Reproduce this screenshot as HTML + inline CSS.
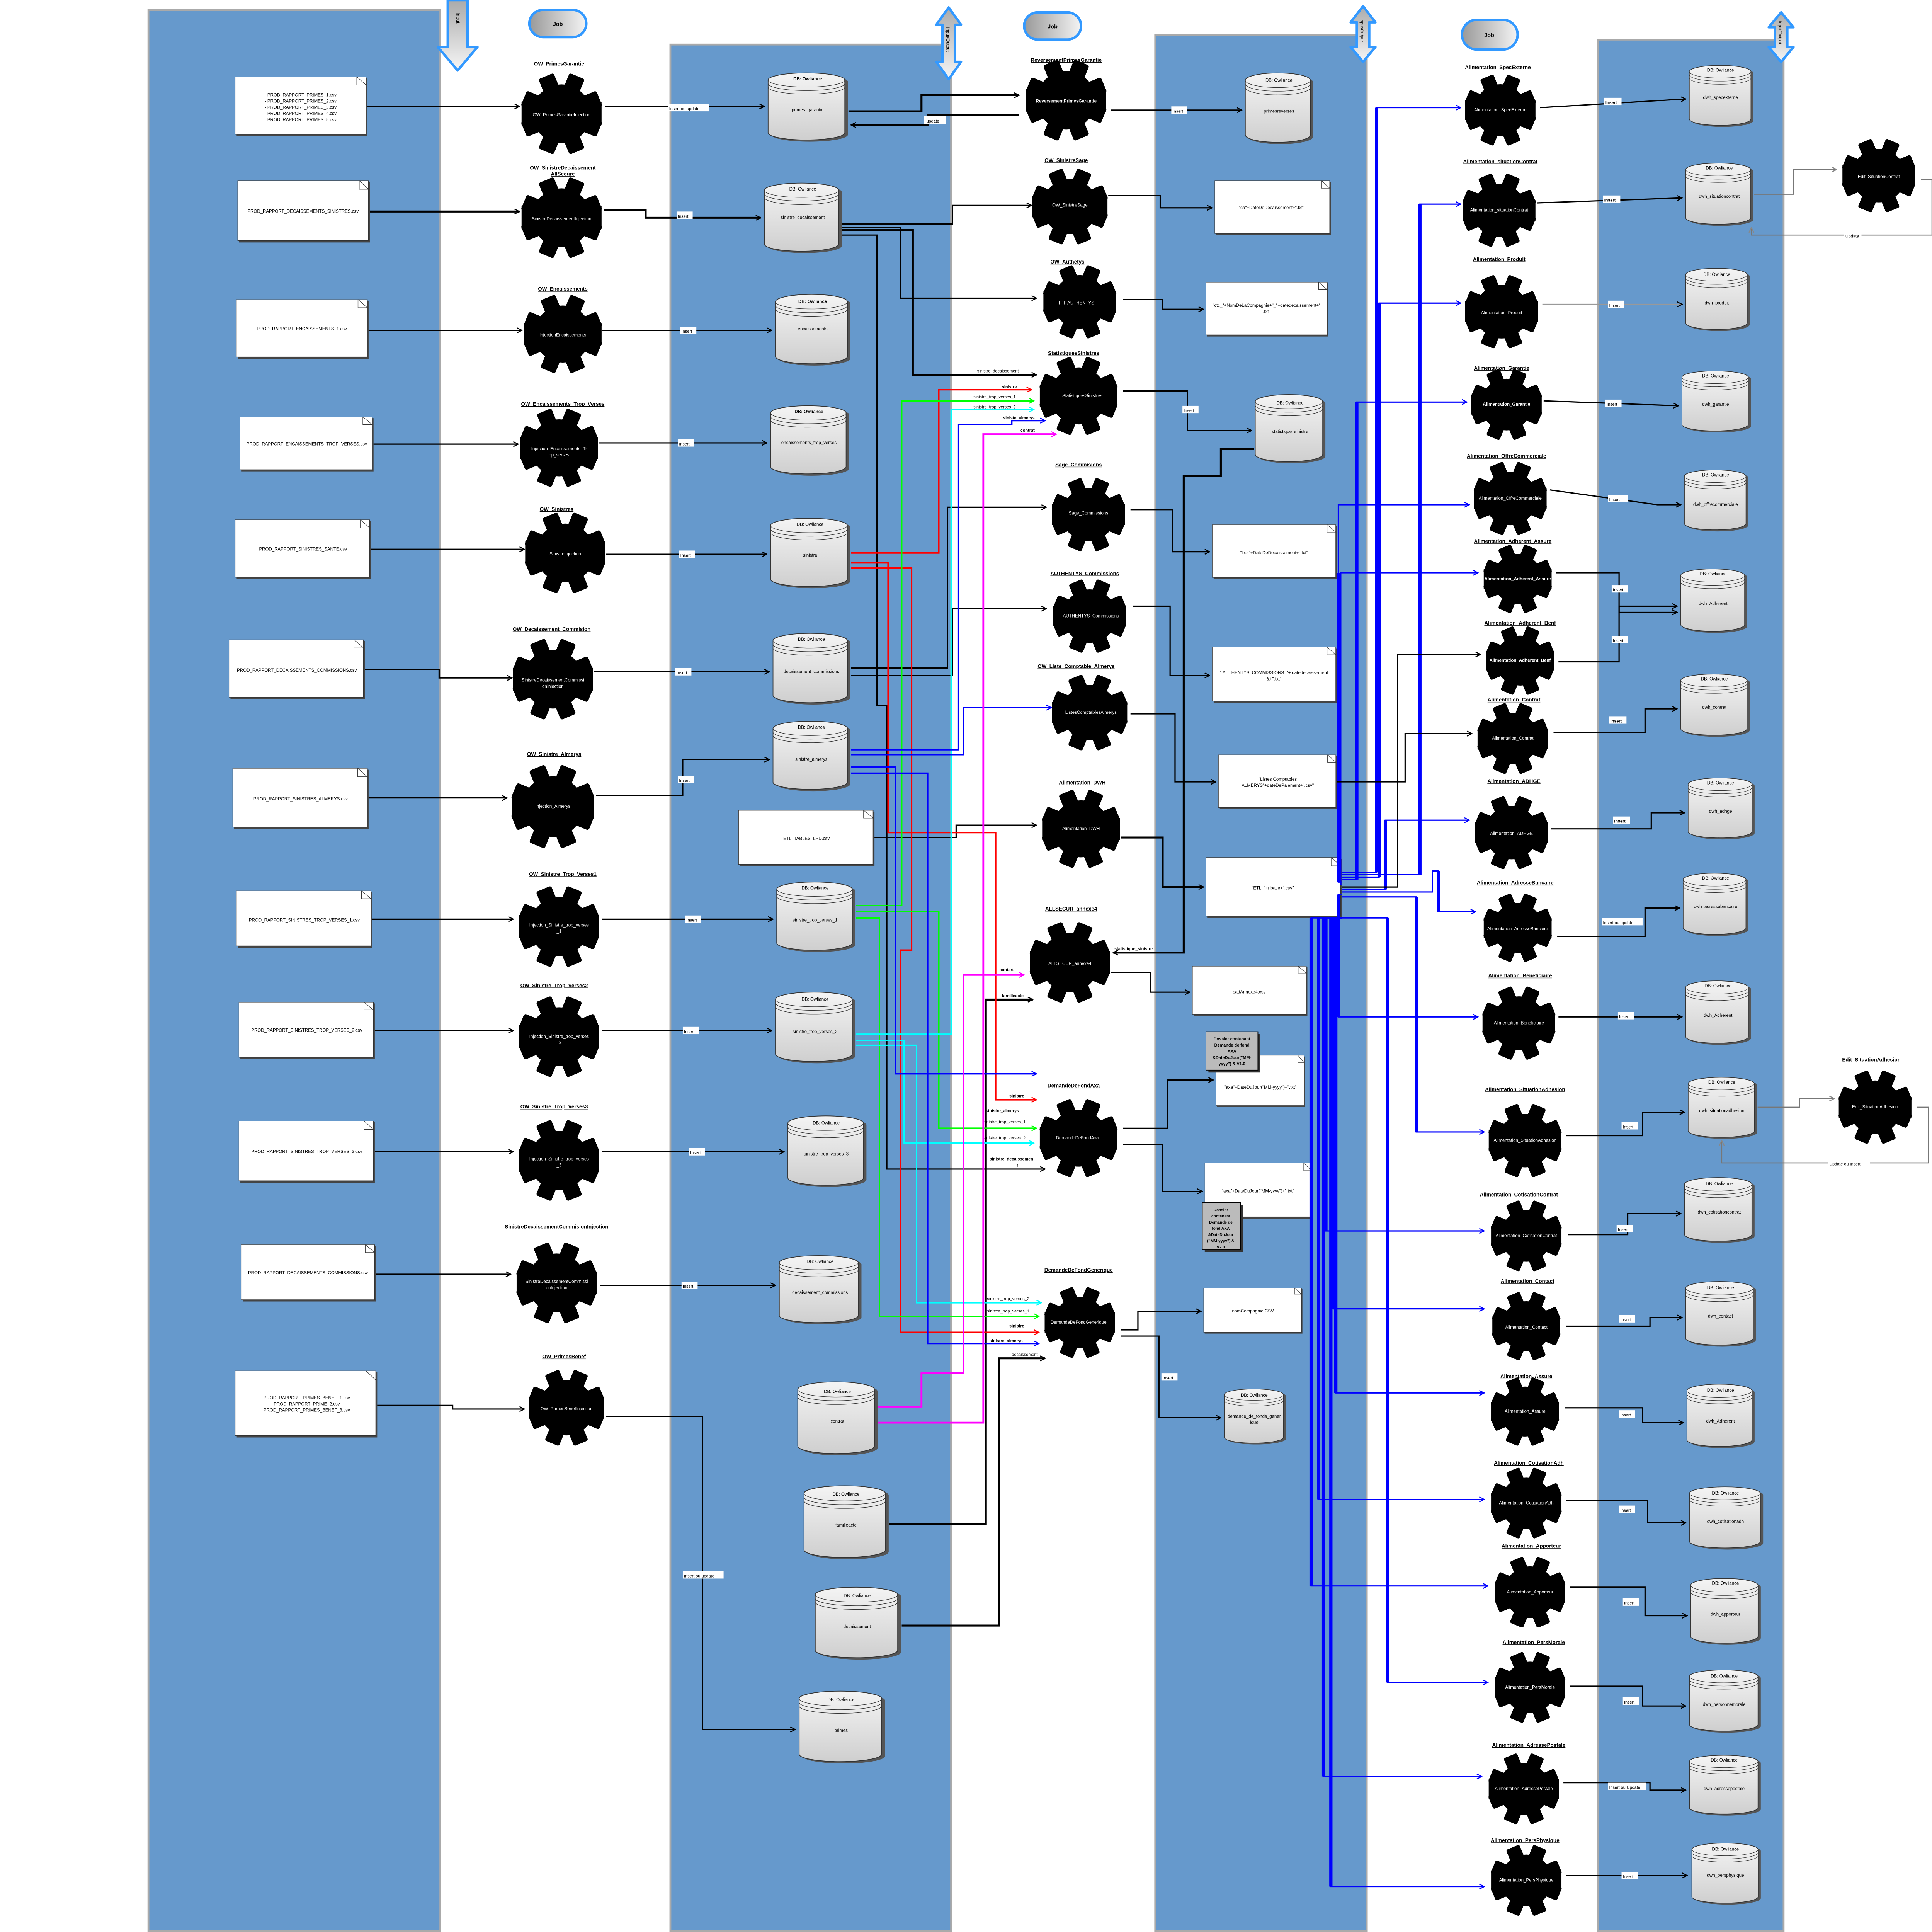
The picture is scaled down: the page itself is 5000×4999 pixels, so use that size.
<!DOCTYPE html>
<html><head><meta charset="utf-8"><style>
html,body{margin:0;padding:0;background:#fff}
svg{display:block}
text{font-family:"Liberation Sans",sans-serif}
.t{font-size:4.2px;font-weight:bold;text-decoration:underline;text-anchor:middle}
.g{font-size:3.6px;fill:#fff;text-anchor:middle}
.d{font-size:3.6px;text-anchor:middle}
.c{font-size:3.6px;text-anchor:middle}
.lb{font-size:3.4px}
.k{fill:none;stroke:#000;stroke-width:1}
.kt{fill:none;stroke:#000;stroke-width:1.6}
.bl{fill:none;stroke:#00f;stroke-width:1}
.blt{fill:none;stroke:#00f;stroke-width:2.6}
</style></head><body>
<svg width="5000" height="4999" viewBox="0 0 1562 1561.7" xmlns="http://www.w3.org/2000/svg">
<defs>
<linearGradient id="cg" x1="0" y1="0" x2="0" y2="1"><stop offset="0" stop-color="#f4f4f4"/><stop offset="1" stop-color="#cfcfcf"/></linearGradient>
<linearGradient id="ag" x1="0" y1="0" x2="0" y2="1"><stop offset="0" stop-color="#aaa"/><stop offset="1" stop-color="#f6f6f6"/></linearGradient>
<linearGradient id="jg" x1="0" y1="0" x2="1" y2="0"><stop offset="0" stop-color="#999"/><stop offset="1" stop-color="#f4f4f4"/></linearGradient>
<symbol id="gear" viewBox="-1 -1 2 2">
<circle r="0.72" fill="#000"/>
<g fill="#000">
<rect x="-0.2" y="-1" width="0.4" height="0.5" rx="0.05" transform="rotate(22.5)"/>
<rect x="-0.2" y="-1" width="0.4" height="0.5" rx="0.05" transform="rotate(67.5)"/>
<rect x="-0.2" y="-1" width="0.4" height="0.5" rx="0.05" transform="rotate(112.5)"/>
<rect x="-0.2" y="-1" width="0.4" height="0.5" rx="0.05" transform="rotate(157.5)"/>
<rect x="-0.2" y="-1" width="0.4" height="0.5" rx="0.05" transform="rotate(202.5)"/>
<rect x="-0.2" y="-1" width="0.4" height="0.5" rx="0.05" transform="rotate(247.5)"/>
<rect x="-0.2" y="-1" width="0.4" height="0.5" rx="0.05" transform="rotate(292.5)"/>
<rect x="-0.2" y="-1" width="0.4" height="0.5" rx="0.05" transform="rotate(337.5)"/>
<rect x="-0.98" y="-0.28" width="1.96" height="0.56"/>
</g>
</symbol>
<symbol id="cyl" viewBox="0 0 66 60" preserveAspectRatio="none">
<path d="M2 7 A31 6 0 0 1 64 7 L64 52 A31 6 0 0 1 2 52 Z" fill="#555" transform="translate(1.5,1.5)"/>
<path d="M1 7 A31 6 0 0 1 63 7 L63 52 A31 6 0 0 1 1 52 Z" fill="url(#cg)" stroke="#333" stroke-width="0.6"/>
<path d="M1 7 A31 6 0 0 0 63 7 M1 10 A31 6 0 0 0 63 10 M1 13 A31 6 0 0 0 63 13" fill="none" stroke="#333" stroke-width="0.4"/>
</symbol>
<symbol id="doc" viewBox="0 0 100 50" preserveAspectRatio="none">
<rect x="1.2" y="1.2" width="99" height="49" fill="#444"/>
<rect x="0" y="0" width="99" height="48.5" fill="#fff" stroke="#333" stroke-width="0.5"/>
<path d="M92 0 L92 7 L99 7 Z" fill="#fff" stroke="#333" stroke-width="0.4"/>
</symbol>
<marker id="ak" viewBox="0 0 10 10" refX="9" refY="5" markerWidth="5" markerHeight="5" markerUnits="userSpaceOnUse" orient="auto"><path d="M1 1 L9 5 L1 9" fill="none" stroke="#000" stroke-width="1.6"/></marker>
<marker id="ab" viewBox="0 0 10 10" refX="9" refY="5" markerWidth="5" markerHeight="5" markerUnits="userSpaceOnUse" orient="auto"><path d="M1 1 L9 5 L1 9" fill="none" stroke="#00f" stroke-width="1.6"/></marker>
<marker id="ar" viewBox="0 0 10 10" refX="9" refY="5" markerWidth="5" markerHeight="5" markerUnits="userSpaceOnUse" orient="auto"><path d="M1 1 L9 5 L1 9" fill="none" stroke="#f00" stroke-width="1.6"/></marker>
<marker id="agr" viewBox="0 0 10 10" refX="9" refY="5" markerWidth="5" markerHeight="5" markerUnits="userSpaceOnUse" orient="auto"><path d="M1 1 L9 5 L1 9" fill="none" stroke="#0f0" stroke-width="1.6"/></marker>
<marker id="ac" viewBox="0 0 10 10" refX="9" refY="5" markerWidth="5" markerHeight="5" markerUnits="userSpaceOnUse" orient="auto"><path d="M1 1 L9 5 L1 9" fill="none" stroke="#0ff" stroke-width="1.6"/></marker>
<marker id="am" viewBox="0 0 10 10" refX="9" refY="5" markerWidth="5" markerHeight="5" markerUnits="userSpaceOnUse" orient="auto"><path d="M1 1 L9 5 L1 9" fill="none" stroke="#f0f" stroke-width="1.6"/></marker>
<marker id="ag2" viewBox="0 0 10 10" refX="9" refY="5" markerWidth="5" markerHeight="5" markerUnits="userSpaceOnUse" orient="auto"><path d="M1 1 L9 5 L1 9" fill="none" stroke="#888" stroke-width="1.6"/></marker>
</defs>

<!-- panels -->
<rect x="120" y="8" width="236" height="1553" fill="#6699cc" stroke="#aaa" stroke-width="1.5"/>
<rect x="542" y="36" width="227" height="1525" fill="#6699cc" stroke="#aaa" stroke-width="1.5"/>
<rect x="934" y="28" width="171" height="1533" fill="#6699cc" stroke="#aaa" stroke-width="1.5"/>
<rect x="1292" y="32" width="150" height="1529" fill="#6699cc" stroke="#aaa" stroke-width="1.5"/>

<!-- io arrows -->
<path d="M362 0 L378 0 L378 38 L386 38 L370 57 L354 38 L362 38 Z" fill="url(#ag)" stroke="#3399ff" stroke-width="2" stroke-linejoin="round"/>
<text transform="translate(369,10) rotate(90)" font-size="4" >Input</text>
<path d="M767 6 L777 20 L772 20 L772 50 L777 50 L767 64 L757 50 L762 50 L762 20 L757 20 Z" fill="url(#ag)" stroke="#3399ff" stroke-width="2" stroke-linejoin="round"/>
<text transform="translate(765,22) rotate(90)" font-size="3.6">Input/Output</text>
<path d="M1102 5 L1112 18 L1107 18 L1107 38 L1112 38 L1102 50 L1092 38 L1097 38 L1097 18 L1092 18 Z" fill="url(#ag)" stroke="#3399ff" stroke-width="2" stroke-linejoin="round"/>
<text transform="translate(1100,15) rotate(90)" font-size="3.4">Input/Output</text>
<path d="M1440 10 L1450 22 L1445 22 L1445 38 L1450 38 L1440 50 L1430 38 L1435 38 L1435 22 L1430 22 Z" fill="url(#ag)" stroke="#3399ff" stroke-width="2" stroke-linejoin="round"/>
<text transform="translate(1438,17) rotate(90)" font-size="3.4">Input/Output</text>
<rect x="428" y="8" width="46" height="22" rx="11" fill="url(#jg)" stroke="#3399ff" stroke-width="2"/><text x="451" y="21" font-size="4.5" font-weight="bold" text-anchor="middle">Job</text>
<rect x="828" y="10" width="46" height="22" rx="11" fill="url(#jg)" stroke="#3399ff" stroke-width="2"/><text x="851" y="23" font-size="4.5" font-weight="bold" text-anchor="middle">Job</text>
<rect x="1182" y="16" width="45" height="24" rx="12" fill="url(#jg)" stroke="#3399ff" stroke-width="2"/><text x="1204" y="30" font-size="4.5" font-weight="bold" text-anchor="middle">Job</text>

<!-- column 1 docs -->
<use href="#doc" x="190" y="62" width="107" height="48"/>
<text class="d" x="243" y="78">- PROD_RAPPORT_PRIMES_1.csv</text>
<text class="d" x="243" y="83">- PROD_RAPPORT_PRIMES_2.csv</text>
<text class="d" x="243" y="88">- PROD_RAPPORT_PRIMES_3.csv</text>
<text class="d" x="243" y="93">- PROD_RAPPORT_PRIMES_4.csv</text>
<text class="d" x="243" y="98">- PROD_RAPPORT_PRIMES_5.csv</text>
<use href="#doc" x="192" y="146" width="107" height="50"/><text class="d" x="245" y="172">PROD_RAPPORT_DECAISSEMENTS_SINISTRES.csv</text>
<use href="#doc" x="191" y="242" width="107" height="48"/><text class="d" x="244" y="267">PROD_RAPPORT_ENCAISSEMENTS_1.csv</text>
<use href="#doc" x="194" y="337" width="108" height="44"/><text class="d" x="248" y="360">PROD_RAPPORT_ENCAISSEMENTS_TROP_VERSES.csv</text>
<use href="#doc" x="190" y="420" width="110" height="48"/><text class="d" x="245" y="445">PROD_RAPPORT_SINISTRES_SANTE.csv</text>
<use href="#doc" x="185" y="517" width="110" height="48"/><text class="d" x="240" y="543">PROD_RAPPORT_DECAISSEMENTS_COMMISSIONS.csv</text>
<use href="#doc" x="188" y="621" width="110" height="49"/><text class="d" x="243" y="647">PROD_RAPPORT_SINISTRES_ALMERYS.csv</text>
<use href="#doc" x="191" y="720" width="110" height="46"/><text class="d" x="246" y="745">PROD_RAPPORT_SINISTRES_TROP_VERSES_1.csv</text>
<use href="#doc" x="193" y="810" width="110" height="46"/><text class="d" x="248" y="834">PROD_RAPPORT_SINISTRES_TROP_VERSES_2.csv</text>
<use href="#doc" x="193" y="906" width="110" height="50"/><text class="d" x="248" y="932">PROD_RAPPORT_SINISTRES_TROP_VERSES_3.csv</text>
<use href="#doc" x="195" y="1006" width="109" height="46"/><text class="d" x="249" y="1030">PROD_RAPPORT_DECAISSEMENTS_COMMISSIONS.csv</text>
<use href="#doc" x="190" y="1108" width="115" height="54"/>
<text class="d" x="248" y="1131">PROD_RAPPORT_PRIMES_BENEF_1.csv</text>
<text class="d" x="248" y="1136">PROD_RAPPORT_PRIME_2.csv</text>
<text class="d" x="248" y="1141">PROD_RAPPORT_PRIMES_BENEF_3.csv</text>

<!-- doc -> gear -->
<g class="k" marker-end="url(#ak)">
<path d="M297 86 H420"/><path class="kt" d="M299 171 H420"/><path d="M298 267 H422"/><path d="M302 359 H419"/>
<path d="M300 444 H424"/><path d="M295 541 H355 V548 H414"/><path d="M298 645 H410"/><path d="M301 743 H415"/>
<path d="M303 833 H415"/><path d="M303 931 H415"/><path d="M304 1030 H413"/><path d="M305 1136 H366 V1139 H424"/>
</g>

<!-- column 1 gears -->
<g>
<text class="t" x="452" y="53">OW_PrimesGarantie</text><use href="#gear" x="421" y="59" width="66" height="66"/><text class="g" x="454" y="94">OW_PrimesGarantieInjection</text>
<text class="t" x="455" y="137">OW_SinistreDecaissement</text><text class="t" x="455" y="142">AllSecure</text><use href="#gear" x="421" y="143" width="66" height="66"/><text class="g" x="454" y="178">SinistreDecaissementInjection</text>
<text class="t" x="455" y="235">OW_Encaissements</text><use href="#gear" x="423" y="238" width="64" height="64"/><text class="g" x="455" y="272">InjectionEncaissements</text>
<text class="t" x="455" y="328">OW_Encaissements_Trop_Verses</text><use href="#gear" x="420" y="330" width="64" height="64"/><text class="g" x="452" y="364">Injection_Encaissements_Tr</text><text class="g" x="452" y="369">op_verses</text>
<text class="t" x="450" y="413">OW_Sinistres</text><use href="#gear" x="424" y="414" width="66" height="66"/><text class="g" x="457" y="449">SinistreInjection</text>
<text class="t" x="446" y="510">OW_Decaissement_Commision</text><use href="#gear" x="414" y="516" width="66" height="66"/><text class="g" x="447" y="551">SinistreDecaissementCommissi</text><text class="g" x="447" y="556">onInjection</text>
<text class="t" x="448" y="611">OW_Sinistre_Almerys</text><use href="#gear" x="412" y="618" width="70" height="68"/><text class="g" x="447" y="653">Injection_Almerys</text>
<text class="t" x="455" y="708">OW_Sinistre_Trop_Verses1</text><use href="#gear" x="417" y="716" width="70" height="66"/><text class="g" x="452" y="749">Injection_Sinistre_trop_verses</text><text class="g" x="452" y="754">_1</text>
<text class="t" x="448" y="798">OW_Sinistre_Trop_Verses2</text><use href="#gear" x="417" y="805" width="70" height="66"/><text class="g" x="452" y="839">Injection_Sinistre_trop_verses</text><text class="g" x="452" y="844">_2</text>
<text class="t" x="448" y="896">OW_Sinistre_Trop_Verses3</text><use href="#gear" x="417" y="905" width="70" height="66"/><text class="g" x="452" y="938">Injection_Sinistre_trop_verses</text><text class="g" x="452" y="943">_3</text>
<text class="t" x="450" y="993">SinistreDecaissementCommisionInjection</text><use href="#gear" x="415" y="1004" width="70" height="66"/><text class="g" x="450" y="1037">SinistreDecaissementCommissi</text><text class="g" x="450" y="1042">onInjection</text>
<text class="t" x="456" y="1098">OW_PrimesBenef</text><use href="#gear" x="426" y="1107" width="64" height="62"/><text class="g" x="458" y="1140">OW_PrimesBenefInjection</text>
</g>

<!-- column 2 cylinders -->
<use href="#cyl" x="620" y="58" width="66" height="57"/><text class="c" x="653" y="65" font-weight="bold">DB: Owliance</text><text class="c" x="653" y="90">primes_garantie</text>
<use href="#cyl" x="617" y="147" width="64" height="58"/><text class="c" x="649" y="154">DB: Owliance</text><text class="c" x="649" y="177">sinistre_decaissement</text>
<use href="#cyl" x="626" y="237" width="62" height="59"/><text class="c" x="657" y="245" font-weight="bold">DB: Owliance</text><text class="c" x="657" y="267">encaissements</text>
<use href="#cyl" x="622" y="327" width="65" height="58"/><text class="c" x="654" y="334" font-weight="bold">DB: Owliance</text><text class="c" x="654" y="359">encaissements_trop_verses</text>
<use href="#cyl" x="622" y="418" width="66" height="58"/><text class="c" x="655" y="425">DB: Owliance</text><text class="c" x="655" y="450">sinistre</text>
<use href="#cyl" x="624" y="511" width="64" height="59"/><text class="c" x="656" y="518">DB: Owliance</text><text class="c" x="656" y="544">decaissement_commissions</text>
<use href="#cyl" x="624" y="582" width="64" height="58"/><text class="c" x="656" y="589">DB: Owliance</text><text class="c" x="656" y="615">sinistre_almerys</text>
<use href="#doc" x="597" y="655" width="110" height="45"/><text class="d" x="652" y="679">ETL_TABLES_LPD.csv</text>
<use href="#cyl" x="627" y="712" width="65" height="58"/><text class="c" x="659" y="719">DB: Owliance</text><text class="c" x="659" y="745">sinistre_trop_verses_1</text>
<use href="#cyl" x="626" y="801" width="66" height="59"/><text class="c" x="659" y="809">DB: Owliance</text><text class="c" x="659" y="835">sinistre_trop_verses_2</text>
<use href="#cyl" x="636" y="901" width="65" height="59"/><text class="c" x="668" y="909">DB: Owliance</text><text class="c" x="668" y="934">sinistre_trop_verses_3</text>
<use href="#cyl" x="629" y="1014" width="68" height="57"/><text class="c" x="663" y="1021">DB: Owliance</text><text class="c" x="663" y="1046">decaissement_commissions</text>
<use href="#cyl" x="644" y="1116" width="66" height="61"/><text class="c" x="677" y="1126">DB: Owliance</text><text class="c" x="677" y="1150">contrat</text>
<use href="#cyl" x="649" y="1200" width="70" height="61"/><text class="c" x="684" y="1209">DB: Owliance</text><text class="c" x="684" y="1234">familleacte</text>
<use href="#cyl" x="658" y="1282" width="71" height="60"/><text class="c" x="693" y="1291">DB: Owliance</text><text class="c" x="693" y="1316">decaissement</text>
<use href="#cyl" x="645" y="1366" width="71" height="60"/><text class="c" x="680" y="1375">DB: Owliance</text><text class="c" x="680" y="1400">primes</text>

<!-- gear -> cyl col2 -->
<g class="k" marker-end="url(#ak)">
<path d="M489 86 H618"/><path class="kt" d="M488 170 H522 V176 H615"/><path d="M487 267 H624"/><path d="M484 358 H620"/>
<path d="M490 448 H620"/><path d="M480 543 H622"/><path d="M482 643 H552 V614 H622"/><path d="M487 743 H625"/>
<path d="M487 833 H624"/><path d="M487 931 H634"/><path d="M485 1039 H627"/><path d="M490 1145 H568 V1398 H643"/>
</g>
<g class="lb">
<rect x="540" y="84" width="33" height="6" fill="#fff"/><text x="541" y="89">Insert ou update</text>
<rect x="547" y="171" width="13" height="6" fill="#fff"/><text x="548" y="176">Insert</text>
<rect x="550" y="264" width="13" height="6" fill="#fff"/><text x="551" y="269">Insert</text>
<rect x="548" y="355" width="13" height="6" fill="#fff"/><text x="549" y="360">Insert</text>
<rect x="549" y="445" width="13" height="6" fill="#fff"/><text x="550" y="450">Insert</text>
<rect x="546" y="540" width="13" height="6" fill="#fff"/><text x="547" y="545">Insert</text>
<rect x="548" y="627" width="13" height="6" fill="#fff"/><text x="549" y="632">Insert</text>
<rect x="554" y="740" width="13" height="6" fill="#fff"/><text x="555" y="745">Insert</text>
<rect x="552" y="830" width="13" height="6" fill="#fff"/><text x="553" y="835">Insert</text>
<rect x="557" y="928" width="13" height="6" fill="#fff"/><text x="558" y="933">Insert</text>
<rect x="551" y="1036" width="13" height="6" fill="#fff"/><text x="552" y="1041">Insert</text>
<rect x="552" y="1270" width="33" height="6" fill="#fff"/><text x="553" y="1275">Insert ou update</text>
</g>

<!-- col2 -> col3 black -->
<g class="k" marker-end="url(#ak)">
<path class="kt" d="M686 90 H745 V77 H824"/>
<path class="kt" d="M824 93 H750 V101 H688"/>
<path d="M681 181 H770 V166 H834"/>
<path d="M681 184 H728 V241 H838"/>
<path class="kt" d="M681 186 H738 V303 H838"/>
<path d="M681 190 H709 V570 H717 V945 H845"/>
<path d="M688 540 H766 V410 H846"/>
<path d="M688 546 H770 V492 H846"/>
<path d="M707 677 H773 V667 H838"/>
<path class="kt" d="M719 1232 H797 V808 H835"/>
<path class="kt" d="M729 1314 H808 V1098 H845"/>
</g>
<rect x="747" y="94" width="18" height="6" fill="#fff"/><text class="lb" x="749" y="99">update</text>
<g class="lb">
<text x="790" y="301">sinistre_decaissement</text>
<text x="810" y="314" font-weight="bold">sinistre</text>
<text x="787" y="322">sinistre_trop_verses_1</text>
<text x="787" y="330">sinistre_trop_verses_2</text>
<text x="811" y="339" font-weight="bold">siniste_almerys</text>
<text x="825" y="349" font-weight="bold">contrat</text>
<text x="808" y="785" font-weight="bold">contart</text>
<text x="810" y="806" font-weight="bold">familleacte</text>
<text x="816" y="887" font-weight="bold">sinistre</text>
<text x="797" y="899" font-weight="bold">sinistre_almerys</text>
<text x="795" y="908">sinistre_trop_verses_1</text>
<text x="795" y="921">sinistre_trop_verses_2</text>
<text x="800" y="938" font-weight="bold">sinistre_decaissemen</text><text x="822" y="943" font-weight="bold">t</text>
<text x="798" y="1051">sinistre_trop_verses_2</text>
<text x="798" y="1061">sinistre_trop_verses_1</text>
<text x="816" y="1073" font-weight="bold">sinistre</text>
<text x="800" y="1085" font-weight="bold">sinistre_almerys</text>
<text x="818" y="1096">decaissement</text>
</g>

<!-- colored -->
<g fill="none" stroke-width="1.2">
<path stroke="#f00" marker-end="url(#ar)" d="M688 447 H759 V315 H834"/>
<path stroke="#f00" marker-end="url(#ar)" d="M688 455 H718 V673 H805 V889 H838"/>
<path stroke="#f00" marker-end="url(#ar)" d="M688 459 H737 V768 H728 V1077 H840"/>
<path stroke="#0f0" marker-end="url(#agr)" d="M692 732 H729 V324 H836"/>
<path stroke="#0f0" marker-end="url(#agr)" d="M692 737 H759 V912 H838"/>
<path stroke="#0f0" marker-end="url(#agr)" d="M692 742 H711 V1064 H840"/>
<path stroke="#0ff" marker-end="url(#ac)" d="M692 836 H769 V331 H836"/>
<path stroke="#0ff" marker-end="url(#ac)" d="M692 841 H731 V924 H836"/>
<path stroke="#0ff" marker-end="url(#ac)" d="M692 845 H741 V1053 H842"/>
<path stroke="#00f" marker-end="url(#ab)" d="M688 606 H775 V343 H818 V340 H845"/>
<path stroke="#00f" marker-end="url(#ab)" d="M688 610 H779 V572 H850"/>
<path stroke="#00f" marker-end="url(#ab)" d="M688 620 H724 V868 H838"/>
<path stroke="#00f" marker-end="url(#ab)" d="M688 625 H750 V1086 H840"/>
<path stroke="#f0f" stroke-width="1.5" marker-end="url(#am)" d="M710 1137 H745 V1110 H779 V788 H828"/>
<path stroke="#f0f" stroke-width="1.5" marker-end="url(#am)" d="M710 1150 H795 V351 H854"/>
</g>

<!-- column 3 gears -->
<text class="t" x="862" y="50">ReversementPrimesGarantie</text><use href="#gear" x="826" y="48" width="72" height="66"/><text class="g" x="862" y="83" font-weight="bold">ReversementPrimesGarantie</text>
<text class="t" x="862" y="131">OW_SinistreSage</text><use href="#gear" x="834" y="132" width="62" height="70"/><text class="g" x="865" y="167">OW_SinistreSage</text>
<text class="t" x="863" y="213">OW_Authetys</text><use href="#gear" x="838" y="214" width="70" height="60"/><text class="g" x="870" y="246">TPI_AUTHENTYS</text>
<text class="t" x="868" y="287">StatistiquesSinistres</text><use href="#gear" x="836" y="288" width="72" height="64"/><text class="g" x="875" y="321">StatistiquesSinistres</text>
<text class="t" x="872" y="377">Sage_Commisions</text><use href="#gear" x="846" y="386" width="68" height="60"/><text class="g" x="880" y="416">Sage_Commissions</text>
<text class="t" x="877" y="465">AUTHENTYS_Commissions</text><use href="#gear" x="846" y="468" width="70" height="60"/><text class="g" x="882" y="499">AUTHENTYS_Commissions</text>
<text class="t" x="870" y="540">OW_Liste_Comptable_Almerys</text><use href="#gear" x="848" y="545" width="66" height="62"/><text class="g" x="882" y="577">ListesComptablesAlmerys</text>
<text class="t" x="875" y="634">Alimentation_DWH</text><use href="#gear" x="840" y="638" width="68" height="64"/><text class="g" x="874" y="671">Alimentation_DWH</text>
<text class="t" x="866" y="736" font-weight="normal">ALLSECUR_annexe4</text><use href="#gear" x="831" y="745" width="68" height="66"/><text class="g" x="865" y="780">ALLSECUR_annexe4</text>
<text class="t" x="868" y="879">DemandeDeFondAxa</text><use href="#gear" x="836" y="888" width="72" height="64"/><text class="g" x="871" y="921">DemandeDeFondAxa</text>
<text class="t" x="872" y="1028">DemandeDeFondGenerique</text><use href="#gear" x="840" y="1040" width="66" height="58"/><text class="g" x="872" y="1070">DemandeDeFondGenerique</text>

<!-- column 3 outputs -->
<use href="#cyl" x="1006" y="58" width="56" height="59"/><text class="c" x="1034" y="66">DB: Owliance</text><text class="c" x="1034" y="91">primesreverses</text>
<use href="#doc" x="982" y="146" width="94" height="44"/><text class="d" x="1028" y="169">"ca"+DateDeDecaissement+".txt"</text>
<use href="#doc" x="975" y="228" width="99" height="44"/><text class="d" x="1024" y="248">"ctc_"+NomDeLaCompagnie+"_"+datedecaissement+"</text><text class="d" x="1024" y="253">.txt"</text>
<use href="#cyl" x="1014" y="318" width="58" height="57"/><text class="c" x="1043" y="327">DB: Owliance</text><text class="c" x="1043" y="350">statistique_sinistre</text>
<use href="#doc" x="980" y="424" width="101" height="44"/><text class="d" x="1030" y="448">"Lca"+DateDeDecaissement+".txt"</text>
<use href="#doc" x="980" y="523" width="101" height="45"/><text class="d" x="1030" y="545">" AUTHENTYS_COMMISSIONS_"+ datedecaissement</text><text class="d" x="1030" y="550">&amp;+".txt"</text>
<use href="#doc" x="985" y="610" width="96" height="44"/><text class="d" x="1033" y="631">"Listes Comptables</text><text class="d" x="1033" y="636">ALMERYS"+dateDePaiement+".csv"</text>
<use href="#doc" x="975" y="693" width="110" height="49"/><text class="d" x="1029" y="719">"ETL_"+nbatie+".csv"</text>
<use href="#doc" x="964" y="781" width="93" height="40"/><text class="d" x="1010" y="803">sadAnnexe4.csv</text>
<use href="#doc" x="983" y="853" width="72" height="42"/><text class="d" x="1019" y="880">"axa"+DateDuJour("MM-yyyy")+".txt"</text>
<rect x="977" y="836" width="42" height="31" fill="#333"/><rect x="975" y="834" width="42" height="31" fill="#bbb" stroke="#000" stroke-width="0.6"/>
<g font-size="3.4" font-weight="bold" text-anchor="middle"><text x="996" y="841">Dossier contenant</text><text x="996" y="846">Demande de fond</text><text x="996" y="851">AXA</text><text x="996" y="856">&amp;DateDuJour("MM-</text><text x="996" y="861">yyyy") &amp; V1.0</text></g>
<use href="#doc" x="974" y="940" width="87" height="45"/><text class="d" x="1017" y="964">"axa"+DateDuJour("MM-yyyy")+".txt"</text>
<rect x="974" y="974" width="31" height="38" fill="#333"/><rect x="972" y="972" width="31" height="38" fill="#bbb" stroke="#000" stroke-width="0.6"/>
<g font-size="3.2" font-weight="bold" text-anchor="middle"><text x="987" y="979">Dossier</text><text x="987" y="984">contenant</text><text x="987" y="989">Demande de</text><text x="987" y="994">fond AXA</text><text x="987" y="999">&amp;DateDuJour</text><text x="987" y="1004">("MM-yyyy") &amp;</text><text x="987" y="1009">V2.0</text></g>
<use href="#doc" x="973" y="1041" width="80" height="37"/><text class="d" x="1013" y="1061">nomCompagnie.CSV</text>
<use href="#cyl" x="989" y="1122" width="51" height="46"/><text class="c" x="1014" y="1129">DB: Owliance</text><text class="c" x="1014" y="1146">demande_de_fonds_gener</text><text class="c" x="1014" y="1151">ique</text>

<g class="k" marker-end="url(#ak)">
<path d="M898 89 H1004"/>
<path d="M896 158 H938 V168 H980"/>
<path d="M908 242 H940 V250 H973"/>
<path d="M908 316 H960 V348 H1012"/>
<path d="M914 412 H948 V446 H978"/>
<path d="M916 490 H946 V546 H978"/>
<path d="M914 577 H950 V632 H983"/>
<path class="kt" d="M906 677 H940 V717 H973"/>
<path class="kt" d="M1014 363 H987 V385 H957 V770 H900"/>
<path d="M898 786 H930 V802 H962"/>
<path d="M908 912 H944 V873 H981"/>
<path d="M908 925 H940 V963 H972"/>
<path d="M906 1075 H920 V1060 H971"/>
<path d="M906 1080 H937 V1146 H987"/>
</g>
<g class="lb">
<rect x="947" y="86" width="13" height="6" fill="#fff"/><text x="948" y="91">Insert</text>
<rect x="956" y="328" width="13" height="6" fill="#fff"/><text x="957" y="333">Insert</text>
<rect x="939" y="1110" width="13" height="6" fill="#fff"/><text x="940" y="1115">Insert</text>
<text x="901" y="768" font-weight="bold">statistique_sinistre</text>
</g>

<!-- ETL fan to column 4 -->
<g class="bl" marker-end="url(#ab)">
<path d="M1085 705 H1113 V87 H1181"/>
<path d="M1085 707 H1148 V165 H1181"/>
<path d="M1085 709 H1115 V245 H1181"/>
<path d="M1085 711 H1097 V325 H1186"/>
<path d="M1085 713 H1082 V408 H1188"/>
<path d="M1085 715 H1084 V463 H1195"/>
<path d="M1085 719 H1120 V663 H1188"/>
<path d="M1085 721 H1158 V704 H1163 V737 H1193"/>
<path d="M1085 723 H1082 V822 H1195"/>
<path d="M1085 725 H1145 V915 H1200"/>
<path d="M1085 742 H1072 V995 H1200"/>
<path d="M1085 742 H1078 V1058 H1200"/>
<path d="M1085 742 H1080 V1126 H1200"/>
<path d="M1085 742 H1066 V1212 H1200"/>
<path d="M1085 742 H1060 V1282 H1203"/>
<path d="M1085 742 H1122 V1360 H1203"/>
<path d="M1085 742 H1070 V1436 H1198"/>
<path d="M1085 742 H1076 V1525 H1200"/>
</g>
<g class="blt">
<path d="M1113 705 V87"/><path d="M1115 709 V245"/><path d="M1148 707 V165"/><path d="M1097 711 V325"/><path d="M1082 713 V463"/>
<path d="M1120 719 V663"/><path d="M1163 704 V737"/><path d="M1082 723 V822"/><path d="M1145 725 V915"/>
<path d="M1072 742 V995"/><path d="M1078 742 V1058"/><path d="M1080 742 V1126"/><path d="M1066 742 V1212"/>
<path d="M1060 742 V1282"/><path d="M1122 742 V1360"/><path d="M1070 742 V1436"/><path d="M1076 742 V1525"/>
</g>
<g class="k" marker-end="url(#ak)">
<path d="M1085 717 H1130 V529 H1197"/>
<path d="M1081 632 H1136 V593 H1190"/>
</g>

<!-- column 4 gears -->
<g>
<text class="t" x="1211" y="56">Alimentation_SpecExterne</text><use href="#gear" x="1181" y="60" width="64" height="58"/><text class="g" x="1213" y="90">Alimentation_SpecExterne</text>
<text class="t" x="1213" y="132">Alimentation_situationContrat</text><use href="#gear" x="1181" y="140" width="62" height="60"/><text class="g" x="1212" y="171">Alimentation_situationContrat</text>
<text class="t" x="1212" y="211">Alimentation_Produit</text><use href="#gear" x="1181" y="222" width="66" height="60"/><text class="g" x="1214" y="254">Alimentation_Produit</text>
<text class="t" x="1214" y="299">Alimentation_Garantie</text><use href="#gear" x="1188" y="298" width="60" height="58"/><text class="g" x="1218" y="328" font-weight="bold">Alimentation_Garantie</text>
<text class="t" x="1218" y="370">Alimentation_OffreCommerciale</text><use href="#gear" x="1189" y="373" width="64" height="60"/><text class="g" x="1221" y="404">Alimentation_OffreCommerciale</text>
<text class="t" x="1223" y="439">Alimentation_Adherent_Assure</text><use href="#gear" x="1196" y="440" width="62" height="56"/><text class="g" x="1227" y="469" font-weight="bold">Alimentation_Adherent_Assure</text>
<text class="t" x="1229" y="505">Alimentation_Adherent_Benf</text><use href="#gear" x="1198" y="506" width="62" height="56"/><text class="g" x="1229" y="535" font-weight="bold">Alimentation_Adherent_Benf</text>
<text class="t" x="1224" y="567">Alimentation_Contrat</text><use href="#gear" x="1190" y="568" width="66" height="58"/><text class="g" x="1223" y="598">Alimentation_Contrat</text>
<text class="t" x="1224" y="633">Alimentation_ADHGE</text><use href="#gear" x="1190" y="643" width="64" height="60"/><text class="g" x="1222" y="675">Alimentation_ADHGE</text>
<text class="t" x="1225" y="715">Alimentation_AdresseBancaire</text><use href="#gear" x="1195" y="722" width="64" height="56"/><text class="g" x="1227" y="752">Alimentation_AdresseBancaire</text>
<text class="t" x="1229" y="790">Alimentation_Beneficiaire</text><use href="#gear" x="1196" y="797" width="64" height="60"/><text class="g" x="1228" y="828">Alimentation_Beneficiaire</text>
<text class="t" x="1233" y="882">Alimentation_SituationAdhesion</text><use href="#gear" x="1200" y="892" width="66" height="60"/><text class="g" x="1233" y="923">Alimentation_SituationAdhesion</text>
<text class="t" x="1228" y="967">Alimentation_CotisationContrat</text><use href="#gear" x="1200" y="970" width="68" height="58"/><text class="g" x="1234" y="1000">Alimentation_CotisationContrat</text>
<text class="t" x="1235" y="1037">Alimentation_Contact</text><use href="#gear" x="1202" y="1044" width="64" height="56"/><text class="g" x="1234" y="1074">Alimentation_Contact</text>
<text class="t" x="1234" y="1114">Alimentation_Assure</text><use href="#gear" x="1201" y="1113" width="64" height="56"/><text class="g" x="1233" y="1142">Alimentation_Assure</text>
<text class="t" x="1236" y="1184">Alimentation_CotisationAdh</text><use href="#gear" x="1202" y="1186" width="64" height="58"/><text class="g" x="1234" y="1216">Alimentation_CotisationAdh</text>
<text class="t" x="1238" y="1251">Alimentation_Apporteur</text><use href="#gear" x="1205" y="1258" width="64" height="58"/><text class="g" x="1237" y="1288">Alimentation_Apporteur</text>
<text class="t" x="1240" y="1329">Alimentation_PersMorale</text><use href="#gear" x="1205" y="1335" width="64" height="58"/><text class="g" x="1237" y="1365">Alimentation_PersMorale</text>
<text class="t" x="1236" y="1412">Alimentation_AdressePostale</text><use href="#gear" x="1200" y="1417" width="64" height="58"/><text class="g" x="1232" y="1447">Alimentation_AdressePostale</text>
<text class="t" x="1233" y="1489">Alimentation_PersPhysique</text><use href="#gear" x="1202" y="1491" width="64" height="58"/><text class="g" x="1234" y="1521">Alimentation_PersPhysique</text>
<text class="t" x="1513" y="858">Edit_SituationAdhesion</text><use href="#gear" x="1482" y="865" width="68" height="60"/><text class="g" x="1516" y="896">Edit_SituationAdhesion</text>
<use href="#gear" x="1485" y="112" width="68" height="60"/><text class="g" x="1519" y="144">Edit_SituationContrat</text>
</g>

<!-- column 4 cylinders -->
<g>
<use href="#cyl" x="1365" y="52" width="53" height="51"/><text class="c" x="1391" y="58">DB: Owliance</text><text class="c" x="1391" y="80">dwh_specexterne</text>
<use href="#cyl" x="1362" y="131" width="56" height="52"/><text class="c" x="1390" y="137">DB: Owliance</text><text class="c" x="1390" y="160">dwh_situationcontrat</text>
<use href="#cyl" x="1362" y="216" width="53" height="52"/><text class="c" x="1388" y="223">DB: Owliance</text><text class="c" x="1388" y="246">dwh_produit</text>
<use href="#cyl" x="1359" y="299" width="57" height="51"/><text class="c" x="1387" y="305">DB: Owliance</text><text class="c" x="1387" y="328">dwh_garantie</text>
<use href="#cyl" x="1361" y="379" width="53" height="51"/><text class="c" x="1387" y="385">DB: Owliance</text><text class="c" x="1387" y="409">dwh_offrecommerciale</text>
<use href="#cyl" x="1358" y="459" width="55" height="53"/><text class="c" x="1385" y="465">DB: Owliance</text><text class="c" x="1385" y="489">dwh_Adherent</text>
<use href="#cyl" x="1358" y="544" width="57" height="52"/><text class="c" x="1386" y="550">DB: Owliance</text><text class="c" x="1386" y="573">dwh_contrat</text>
<use href="#cyl" x="1364" y="628" width="55" height="51"/><text class="c" x="1391" y="634">DB: Owliance</text><text class="c" x="1391" y="657">dwh_adhge</text>
<use href="#cyl" x="1360" y="705" width="54" height="52"/><text class="c" x="1387" y="711">DB: Owliance</text><text class="c" x="1387" y="734">dwh_adressebancaire</text>
<use href="#cyl" x="1362" y="792" width="54" height="53"/><text class="c" x="1389" y="798">DB: Owliance</text><text class="c" x="1389" y="822">dwh_Adherent</text>
<use href="#cyl" x="1364" y="870" width="57" height="51"/><text class="c" x="1392" y="876">DB: Owliance</text><text class="c" x="1392" y="899">dwh_situationadhesion</text>
<use href="#cyl" x="1361" y="951" width="58" height="54"/><text class="c" x="1390" y="958">DB: Owliance</text><text class="c" x="1390" y="981">dwh_cotisationcontrat</text>
<use href="#cyl" x="1362" y="1035" width="58" height="54"/><text class="c" x="1391" y="1042">DB: Owliance</text><text class="c" x="1391" y="1065">dwh_contact</text>
<use href="#cyl" x="1363" y="1118" width="56" height="53"/><text class="c" x="1391" y="1125">DB: Owliance</text><text class="c" x="1391" y="1150">dwh_Adherent</text>
<use href="#cyl" x="1365" y="1201" width="61" height="52"/><text class="c" x="1395" y="1208">DB: Owliance</text><text class="c" x="1395" y="1231">dwh_cotisationadh</text>
<use href="#cyl" x="1366" y="1275" width="58" height="55"/><text class="c" x="1395" y="1281">DB: Owliance</text><text class="c" x="1395" y="1306">dwh_apporteur</text>
<use href="#cyl" x="1365" y="1349" width="59" height="52"/><text class="c" x="1394" y="1356">DB: Owliance</text><text class="c" x="1394" y="1379">dwh_personnemorale</text>
<use href="#cyl" x="1365" y="1418" width="59" height="50"/><text class="c" x="1394" y="1424">DB: Owliance</text><text class="c" x="1394" y="1447">dwh_adressepostale</text>
<use href="#cyl" x="1367" y="1489" width="57" height="51"/><text class="c" x="1395" y="1496">DB: Owliance</text><text class="c" x="1395" y="1517">dwh_persphysique</text>
</g>

<!-- col4 gear -> cyl -->
<g class="k" marker-end="url(#ak)">
<path d="M1245 87 L1363 80"/>
<path d="M1243 164 L1360 160"/>
<path d="M1247 246 H1360" stroke="#999"/>
<path d="M1248 324 L1357 328"/>
<path d="M1253 396 L1340 408 H1359"/>
<path d="M1258 463 H1309 V495 H1356"/>
<path d="M1260 535 H1309 V490 H1356"/>
<path d="M1256 592 H1330 V573 H1356"/>
<path d="M1254 670 H1335 V657 H1362"/>
<path d="M1259 757 H1330 V734 H1358"/>
<path d="M1260 822 H1360"/>
<path d="M1266 918 H1328 V899 H1362"/>
<path d="M1268 998 H1316 V981 H1359"/>
<path d="M1266 1072 H1334 V1065 H1360"/>
<path d="M1265 1138 H1328 V1150 H1361"/>
<path d="M1266 1213 H1332 V1231 H1363"/>
<path d="M1269 1283 H1330 V1306 H1364"/>
<path d="M1269 1363 H1328 V1379 H1363"/>
<path d="M1264 1441 H1334 V1447 H1363"/>
<path d="M1266 1516 H1364"/>
</g>
<g class="lb">
<rect x="1297" y="79" width="14" height="6" fill="#fff"/><text x="1298" y="84" font-weight="bold">Insert</text>
<rect x="1296" y="158" width="14" height="6" fill="#fff"/><text x="1297" y="163" font-weight="bold">Insert</text>
<rect x="1300" y="243" width="13" height="6" fill="#fff"/><text x="1301" y="248">Insert</text>
<rect x="1298" y="323" width="13" height="6" fill="#fff"/><text x="1299" y="328">Insert</text>
<rect x="1300" y="400" width="16" height="6" fill="#fff"/><text x="1301" y="405">Insert</text>
<rect x="1303" y="473" width="13" height="6" fill="#fff"/><text x="1304" y="478">Insert</text>
<rect x="1303" y="514" width="13" height="6" fill="#fff"/><text x="1304" y="519">Insert</text>
<rect x="1301" y="579" width="14" height="6" fill="#fff"/><text x="1302" y="584" font-weight="bold">Insert</text>
<rect x="1304" y="660" width="14" height="6" fill="#fff"/><text x="1305" y="665" font-weight="bold">Insert</text>
<rect x="1295" y="742" width="33" height="6" fill="#fff"/><text x="1296" y="747">Insert ou update</text>
<rect x="1308" y="818" width="13" height="6" fill="#fff"/><text x="1309" y="823">Insert</text>
<rect x="1311" y="907" width="13" height="6" fill="#fff"/><text x="1312" y="912">Insert</text>
<rect x="1307" y="990" width="13" height="6" fill="#fff"/><text x="1308" y="995">Insert</text>
<rect x="1309" y="1063" width="13" height="6" fill="#fff"/><text x="1310" y="1068">Insert</text>
<rect x="1309" y="1140" width="13" height="6" fill="#fff"/><text x="1310" y="1145">Insert</text>
<rect x="1309" y="1217" width="13" height="6" fill="#fff"/><text x="1310" y="1222">Insert</text>
<rect x="1312" y="1292" width="13" height="6" fill="#fff"/><text x="1313" y="1297">Insert</text>
<rect x="1312" y="1372" width="13" height="6" fill="#fff"/><text x="1313" y="1377">Insert</text>
<rect x="1300" y="1441" width="31" height="6" fill="#fff"/><text x="1301" y="1446">Insert ou Update</text>
<rect x="1311" y="1513" width="13" height="6" fill="#fff"/><text x="1312" y="1518">Insert</text>
</g>

<!-- Edit loops -->
<g fill="none" stroke="#777" stroke-width="0.8">
<path marker-end="url(#ag2)" d="M1418 157 H1450 V137 H1485"/>
<path marker-end="url(#ag2)" d="M1553 145 H1562 V190 H1416 V184"/>
<path marker-end="url(#ag2)" d="M1421 895 H1455 V888 H1483"/>
<path marker-end="url(#ag2)" d="M1550 895 H1559 V940 H1392 V922"/>
</g>
<g class="lb"><rect x="1491" y="187" width="14" height="6" fill="#fff"/><text x="1492" y="192">Update</text>
<rect x="1478" y="937" width="34" height="6" fill="#fff"/><text x="1479" y="942">Update ou Insert</text></g>
</svg>
</body></html>
